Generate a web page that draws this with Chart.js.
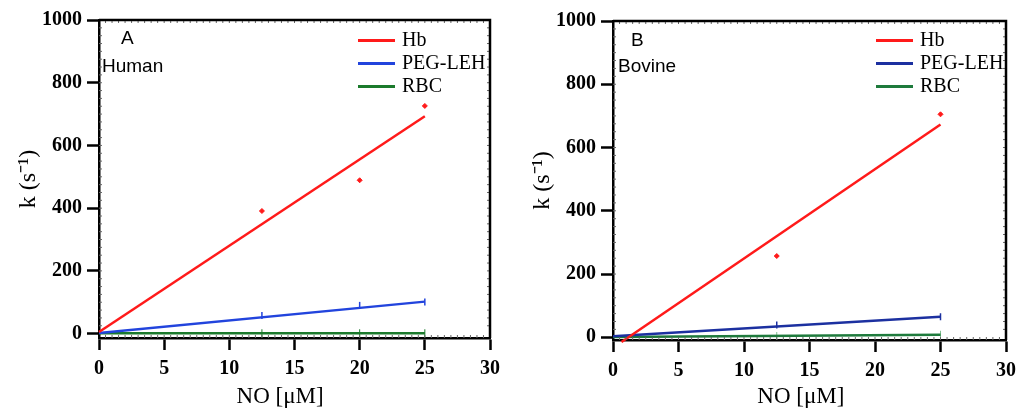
<!DOCTYPE html>
<html>
<head>
<meta charset="utf-8">
<script src="https://cdn.jsdelivr.net/npm/chart.js@4.4.1/dist/chart.umd.min.js"></script>
<style>
    body { margin: 0; background: #fff; }
    #wrap { position: relative; width: 1023px; height: 416px; overflow: hidden; }
    canvas { position: absolute; top: 0; }
    .tag { position: absolute; font-family: 'Liberation Sans', Arial, sans-serif; font-size: 19px; color: #000; line-height: 1; }
    .legend { position: absolute; font-family: 'Liberation Serif', 'Times New Roman', serif; font-size: 20px; color: #000; }
    .legend div { position: absolute; white-space: nowrap; line-height: 1; }
    .legend span { display: inline-block; width: 37px; height: 3px; vertical-align: middle; margin-right: 7px; position: relative; top: -1px; }
</style>
</head>
<body>
<div id="wrap">
    <canvas id="human" width="511" height="416" style="left:0"></canvas>
    <canvas id="bovine" width="512" height="416" style="left:511px"></canvas>
    <div class="tag" style="left:121px; top:28px;">A</div>
    <div class="tag" style="left:102px; top:56px;">Human</div>
    <div class="tag" style="left:631px; top:30px;">B</div>
    <div class="tag" style="left:618px; top:56px;">Bovine</div>
    <div class="legend" id="legendHuman" style="left:358px; top:29px;"></div>
    <div class="legend" id="legendBovine" style="left:876px; top:29px;"></div>
</div>
<script>
// axis ticks
const xTicks = [0, 5, 10, 15, 20, 25, 30];
const yTicks = [0, 200, 400, 600, 800, 1000];
const seriesNames = ['Hb', 'PEG-LEH', 'RBC'];

// A - Human: measured points
const humanConc = [12.5, 20, 25];
const humanHb = [391, 489, 726];
const humanPeg = [58, 90, 101];
const humanRbc = [1, 1, 1];
// A - Human: fitted lines
const humanFitX = [0, 25];
const humanHbFit = [5, 693];
const humanPegFit = [2, 102];
const humanRbcFit = [1, 1];

// B - Bovine: measured points
const bovineConc = [12.5, 25];
const bovineHb = [257, 705];
const bovinePeg = [39, 65];
const bovineRbc = [4, 8];
// B - Bovine: fitted lines
const bovineHbFitX = [0.65, 25];
const bovineHbFit = [-15, 673];
const bovineFitX = [0, 25];
const bovinePegFit = [3, 65];
const bovineRbcFit = [1, 8];

const SERIF = "'Liberation Serif', 'Times New Roman', serif";

function pairs(xs, ys) {
    return xs.map((x, i) => ({ x: x, y: ys[i] }));
}

// frame on top/right plus small inward minor ticks
const framePlugin = {
    id: 'frame',
    afterDatasetsDraw(chart) {
        const { ctx, chartArea: a, scales } = chart;
        ctx.save();
        ctx.strokeStyle = '#666';
        ctx.lineWidth = 1;
        ctx.beginPath();
        for (let v = 0.5; v < 30; v += 0.5) {
            const px = scales.x.getPixelForValue(v);
            ctx.moveTo(px, a.bottom); ctx.lineTo(px, a.bottom - 3);
            ctx.moveTo(px, a.top); ctx.lineTo(px, a.top + 3);
        }
        for (let v = 25; v < 1000; v += 25) {
            const py = scales.y.getPixelForValue(v);
            ctx.moveTo(a.left, py); ctx.lineTo(a.left + 3, py);
            ctx.moveTo(a.right, py); ctx.lineTo(a.right - 3, py);
        }
        ctx.stroke();
        ctx.strokeStyle = '#000';
        ctx.lineWidth = 2.5;
        ctx.beginPath();
        ctx.moveTo(a.left, a.top);
        ctx.lineTo(a.right, a.top);
        ctx.lineTo(a.right, a.bottom);
        ctx.stroke();
        ctx.restore();
    }
};

function makePanel(id, cfg) {
    const c = cfg.colors;
    const datasets = [
        { label: seriesNames[0], data: pairs(cfg.hbFitX, cfg.hbFit), showLine: true, borderColor: c[0], borderWidth: 2.5, pointRadius: 0, clip: false },
        { label: seriesNames[1], data: pairs(cfg.fitX, cfg.pegFit), showLine: true, borderColor: c[1], borderWidth: 2.5, pointRadius: 0 },
        { label: seriesNames[2], data: pairs(cfg.fitX, cfg.rbcFit), showLine: true, borderColor: c[2], borderWidth: 2.5, pointRadius: 0 },
        { label: 'Hb data', data: pairs(cfg.conc, cfg.hb), pointStyle: 'rectRot', pointRadius: 2.5, backgroundColor: c[0], borderColor: c[0] },
        { label: 'PEG data', data: pairs(cfg.conc, cfg.peg), pointStyle: 'line', rotation: 90, pointRadius: 3.5, borderWidth: 1.5, borderColor: c[1] },
        { label: 'RBC data', data: pairs(cfg.conc, cfg.rbc), pointStyle: 'line', rotation: 90, pointRadius: 4, borderWidth: 1, borderColor: cfg.rbcBar }
    ];

    new Chart(document.getElementById(id), {
        type: 'scatter',
        data: { datasets: datasets },
        options: {
            responsive: false,
            animation: false,
            layout: { padding: { left: 0, top: cfg.top, right: cfg.right, bottom: 0 } },
            plugins: { legend: { display: false }, tooltip: { enabled: false } },
            scales: {
                x: {
                    type: 'linear',
                    min: 0,
                    max: 30,
                    afterBuildTicks: s => { s.ticks = xTicks.map(v => ({ value: v })); },
                    afterFit: s => { s.height = cfg.xHeight; },
                    grid: { display: true, drawOnChartArea: false, tickLength: 12, tickWidth: 2.5, tickColor: '#000' },
                    border: { display: true, color: '#000', width: 2.5 },
                    ticks: { autoSkip: false, maxRotation: 0, color: '#000', padding: 7, font: { family: SERIF, size: 20, weight: 'bold' }, callback: v => String(v) },
                    // trailing spaces nudge the centred title left, like the original
                    title: { display: true, text: 'NO [μM]' + '\u00a0'.repeat(cfg.titleShift), color: '#000', padding: { top: 0, bottom: 5 }, font: { family: SERIF, size: 23 } }
                },
                y: {
                    type: 'linear',
                    min: cfg.yMin,
                    max: 1000,
                    afterBuildTicks: s => { s.ticks = yTicks.map(v => ({ value: v })); },
                    afterFit: s => { s.width = cfg.yWidth; },
                    grid: { display: true, drawOnChartArea: false, tickLength: 12, tickWidth: 2.5, tickColor: '#000' },
                    border: { display: true, color: '#000', width: 2.5 },
                    ticks: { color: '#000', padding: 5, font: { family: SERIF, size: 20, weight: 'bold' }, callback: v => String(v) },
                    title: { display: true, text: 'k (s⁻¹)', color: '#000', padding: { top: cfg.yTitlePad, bottom: 0 }, font: { family: SERIF, size: 24 } }
                }
            }
        },
        plugins: [framePlugin]
    });

    // legend built from the fitted-line datasets
    const box = document.getElementById(cfg.legendId);
    datasets.slice(0, 3).forEach((d, i) => {
        const row = document.createElement('div');
        row.style.top = (i * 23) + 'px';
        row.innerHTML = '<span style="background:' + d.borderColor + '"></span>' + d.label;
        box.appendChild(row);
    });
}

makePanel('human', {
    conc: humanConc, hb: humanHb, peg: humanPeg, rbc: humanRbc,
    hbFitX: humanFitX, hbFit: humanHbFit, fitX: humanFitX, pegFit: humanPegFit, rbcFit: humanRbcFit,
    colors: ['#ff1a1a', '#2244dd', '#1b7a2c'], rbcBar: '#1b7a2c',
    yMin: -14, top: 20, right: 21, yWidth: 99, xHeight: 78, yTitlePad: 14, titleShift: 5,
    legendId: 'legendHuman'
});

makePanel('bovine', {
    conc: bovineConc, hb: bovineHb, peg: bovinePeg, rbc: bovineRbc,
    hbFitX: bovineHbFitX, hbFit: bovineHbFit, fitX: bovineFitX, pegFit: bovinePegFit, rbcFit: bovineRbcFit,
    colors: ['#ff1a1a', '#1c30a0', '#1e7a3c'], rbcBar: '#7fbf8f',
    yMin: -8.5, top: 21, right: 13, yWidth: 102, xHeight: 76, yTitlePad: 17, titleShift: 3,
    legendId: 'legendBovine'
});
</script>
</body>
</html>
